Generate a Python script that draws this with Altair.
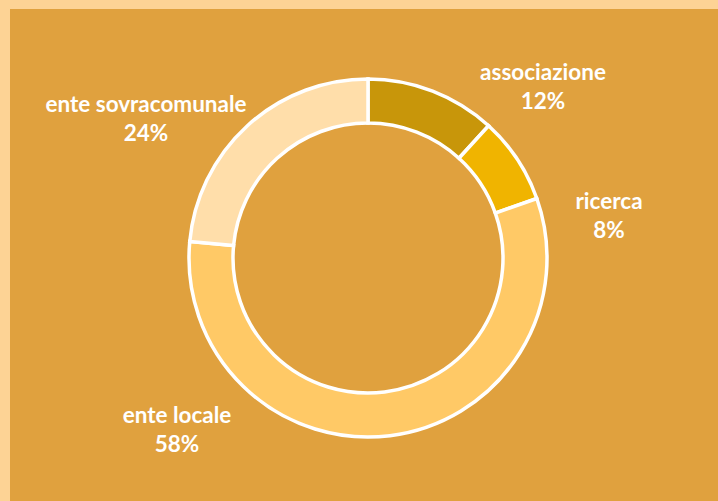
import altair as alt
import pandas as pd

categories = ["associazione", "ricerca", "ente locale", "ente sovracomunale"]
values = [12, 8, 58, 24]
colors = ["#C8960A", "#F0B400", "#FFC966", "#FFDEAA"]

df = pd.DataFrame({
    "categoria": categories,
    "valore": values,
    "ordine": list(range(len(categories))),
})
df["etichetta"] = [f"{c}\n{v}%" for c, v in zip(categories, values)]

W, H = 708, 492
CX, CY = 358, 249

base = alt.Chart(df)

donut = base.mark_arc(innerRadius=135, outerRadius=179, stroke="white", strokeWidth=3.5).encode(
    theta=alt.Theta("valore:Q", stack=True),
    order=alt.Order("ordine:Q"),
    color=alt.Color("categoria:N", scale=alt.Scale(domain=categories, range=colors), legend=None),
    x=alt.value(CX),
    y=alt.value(CY),
)

# label anchor positions (layout only), in plot-area pixels (first line centre)
label_pos = {
    "associazione": (533, 64),
    "ricerca": (599, 192.5),
    "ente locale": (167, 406.5),
    "ente sovracomunale": (136, 95.5),
}

layers = [donut]
for cat in categories:
    lx, ly = label_pos[cat]
    layers.append(
        base.transform_filter(alt.datum.categoria == cat)
        .mark_text(font="Lato", fontWeight="bold", fontSize=22.5, color="white",
                   align="center", baseline="middle", lineBreak="\n", lineHeight=29)
        .encode(text="etichetta:N", x=alt.value(lx), y=alt.value(ly))
    )

chart = alt.layer(*layers).properties(
    width=W, height=H,
    background="#FDD395",
    padding={"left": 10, "top": 9, "right": 0, "bottom": 0},
    autosize=alt.AutoSizeParams(type="none"),
).configure_view(fill="#E0A13E", stroke=None)

chart.save("out.html", embed_options={"renderer": "svg", "actions": False})
